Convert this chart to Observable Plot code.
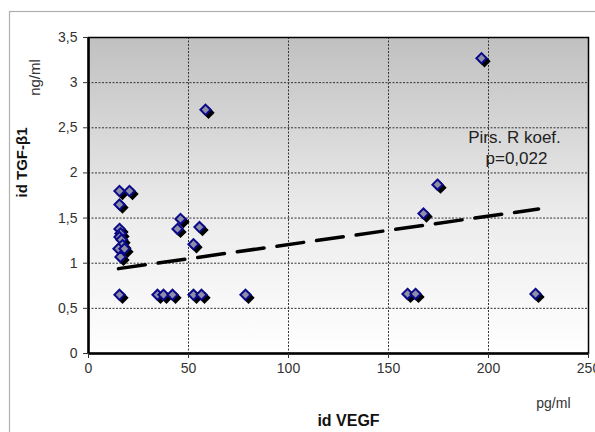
<!DOCTYPE html>
<html>
<head>
<meta charset="utf-8">
<script src="https://cdn.jsdelivr.net/npm/d3@7"></script>
<script src="https://cdn.jsdelivr.net/npm/@observablehq/plot@0.6"></script>
<style>
  html, body { margin: 0; padding: 0; background: #fff; overflow: hidden; }
  #chart { position: relative; width: 595px; height: 432px; }
</style>
</head>
<body>
<div id="chart"></div>
<script>
// VEGF (pg/ml) and TGF-β1 (ng/ml) pairs
const vegf = [15.5, 20.5, 15.5, 15.5, 16, 15.5, 16.5, 17, 15, 18, 16, 15.5, 34.5, 37.5, 42, 44.5, 46, 52.5, 52.5, 55.5, 56.5, 58.5, 78.5, 159.5, 163.5, 167.5, 174.5, 196.5, 223.5];
const tgf  = [1.80, 1.80, 1.65, 1.38, 1.33, 1.29, 1.26, 1.20, 1.16, 1.16, 1.07, 0.65, 0.65, 0.65, 0.65, 1.38, 1.49, 1.21, 0.65, 1.40, 0.65, 2.70, 0.65, 0.66, 0.66, 1.55, 1.87, 3.27, 0.66];

// linear trend line end points
const trendX = [15, 225];
const trendY = [0.94, 1.60];

const xTicks = [0, 50, 100, 150, 200, 250];
const yTicks = [0, 0.5, 1, 1.5, 2, 2.5, 3, 3.5];

const annotText = ["Pirs. R koef.", "p=0,022"];
const annotX = [213, 214];
const annotY = [2.39, 2.16];

const points = vegf.map((v, i) => ({x: v, y: tgf[i]}));
const trend = trendX.map((v, i) => ({x: v, y: trendY[i]}));
const annot = annotText.map((t, i) => ({t, x: annotX[i], y: annotY[i]}));
const fmt = d => String(d).replace(".", ",");

const plot = Plot.plot({
  width: 595,
  height: 432,
  marginLeft: 88,
  marginRight: 7,
  marginTop: 37,
  marginBottom: 79,
  style: {fontFamily: "Liberation Sans, Arial, sans-serif", fontSize: "14px", color: "#333", background: "transparent", overflow: "visible"},
  x: {domain: [0, 250]},
  y: {domain: [0, 3.5]},
  marks: [
    Plot.frame({fill: "url(#bgGrad)", stroke: "none"}),
    Plot.gridX(xTicks.slice(1, -1), {stroke: "#333", strokeOpacity: 1, strokeDasharray: "2,1.5", strokeWidth: 1}),
    Plot.gridY(yTicks.slice(1, -1), {stroke: "#333", strokeOpacity: 1, strokeDasharray: "2,1.5", strokeWidth: 1}),
    Plot.frame({stroke: "#000", strokeWidth: 1.5}),
    Plot.ruleX([0], {stroke: "#000", strokeWidth: 2.5}),
    Plot.ruleY([0], {stroke: "#000", strokeWidth: 2.5}),
    Plot.axisX(xTicks, {tickSize: 5, tickPadding: 5, tickFormat: fmt, label: null, fill: "#333", fontSize: 14}),
    Plot.axisY(yTicks, {tickSize: 5, tickPadding: 6, tickFormat: fmt, label: null, fill: "#333", fontSize: 14}),
    Plot.line(trend, {x: "x", y: "y", stroke: "#000", strokeWidth: 3.5, strokeDasharray: "27,13"}),
    Plot.dot(points, {x: "x", y: "y", symbol: "diamond2", r: 4.6, fill: "#000", stroke: "#000", strokeWidth: 1.5, dx: 3, dy: 3}),
    Plot.dot(points, {x: "x", y: "y", symbol: "diamond2", r: 4.6, fill: "#8e8fa6", stroke: "#0a0a8a", strokeWidth: 2}),
    Plot.text(annot, {x: "x", y: "y", text: "t", fontSize: 17, fill: "#222", textAnchor: "middle"}),
    Plot.text(["id TGF-β1"], {frameAnchor: "left", dx: -66, dy: 2, rotate: -90, lineAnchor: "middle", fontWeight: "bold", fontSize: 15, fill: "#111"}),
    Plot.text(["ng/ml"], {frameAnchor: "top-left", dx: -53, dy: 40, rotate: -90, lineAnchor: "middle", textAnchor: "middle", fontSize: 15, fill: "#333"}),
    Plot.text(["id VEGF"], {frameAnchor: "bottom", dx: 10, dy: 67, lineAnchor: "middle", fontWeight: "bold", fontSize: 16, fill: "#111"}),
    Plot.text(["pg/ml"], {frameAnchor: "bottom-right", dx: -18, dy: 50, lineAnchor: "middle", fontSize: 14, fill: "#333"})
  ]
});

const svg = d3.select(plot);
const defs = svg.insert("defs", ":first-child");
const grad = defs.append("linearGradient").attr("id", "bgGrad").attr("x1", 0).attr("y1", 0).attr("x2", 0).attr("y2", 1);
grad.append("stop").attr("offset", "0%").attr("stop-color", "#c0c0c0");
grad.append("stop").attr("offset", "55%").attr("stop-color", "#ebebeb");
grad.append("stop").attr("offset", "100%").attr("stop-color", "#ffffff");
svg.insert("rect", ":first-child").attr("x", 9.5).attr("y", 11.5).attr("width", 700).attr("height", 600)
  .attr("fill", "none").attr("stroke", "#b0b0b0").attr("stroke-width", 1.2);

document.getElementById("chart").appendChild(plot);
</script>
</body>
</html>
